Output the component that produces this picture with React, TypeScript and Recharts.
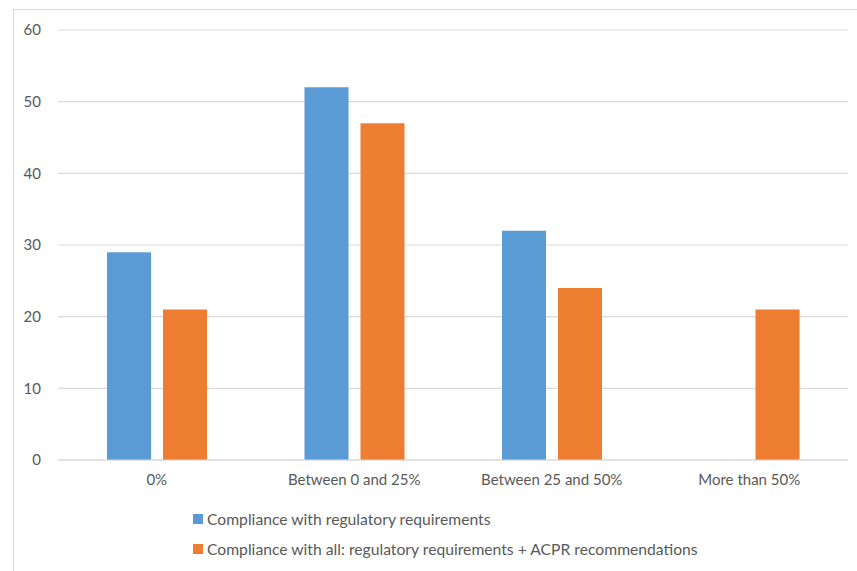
import { BarChart, Bar, XAxis, YAxis, CartesianGrid } from 'recharts';

const categories = ['0%', 'Between 0 and 25%', 'Between 25 and 50%', 'More than 50%'];
const regulatory = [29, 52, 32, 0];
const allCompliance = [21, 47, 24, 21];
const yTicks = [0, 10, 20, 30, 40, 50, 60];

const SERIES_A = 'Compliance with regulatory requirements';
const SERIES_B = 'Compliance with all: regulatory requirements + ACPR recommendations';
const COLOR_A = '#5B9BD5';
const COLOR_B = '#ED7D31';

const data = categories.map((name, i) => ({
  name,
  a: regulatory[i],
  b: allCompliance[i],
}));

const legendItems = [
  { label: SERIES_A, color: COLOR_A },
  { label: SERIES_B, color: COLOR_B },
];

const FONT = 'Lato, "Open Sans", sans-serif';
const TEXT = '#595959';
const GRID = '#d9d9d9';

const App = () => (
  <div style={{ position: 'fixed', left: 0, top: 0, width: 857, height: 571, overflow: 'hidden', background: '#fff' }}>
    <div
      style={{
        position: 'absolute',
        left: 13,
        top: 9,
        width: 900,
        height: 620,
        border: `1.5px solid ${GRID}`,
      }}
    />
    <div style={{ position: 'absolute', left: 0, top: 0 }}>
      <BarChart
        width={857}
        height={571}
        data={data}
        margin={{ top: 30, right: 9, bottom: 81, left: 0 }}
        barSize={44}
        barGap={12}
      >
        <CartesianGrid vertical={false} stroke={GRID} strokeWidth={1.2} />
        <XAxis
          dataKey="name"
          height={30}
          tickLine={false}
          axisLine={{ stroke: GRID, strokeWidth: 1.2 }}
          tickSize={0}
          tickMargin={14}
          tick={{ fontSize: 15, fill: TEXT, fontFamily: FONT }}
        />
        <YAxis
          width={58}
          domain={[0, 60]}
          ticks={yTicks}
          axisLine={false}
          tickLine={false}
          tickSize={0}
          tickMargin={17}
          tick={{ fontSize: 15, fill: TEXT, fontFamily: FONT }}
        />
        <Bar dataKey="a" name={SERIES_A} fill={COLOR_A} isAnimationActive={false} />
        <Bar dataKey="b" name={SERIES_B} fill={COLOR_B} isAnimationActive={false} />
      </BarChart>
    </div>
    <div style={{ position: 'absolute', left: 193, top: 504, fontFamily: FONT, fontSize: 15.7, color: TEXT }}>
      {legendItems.map((it) => (
        <div key={it.label} style={{ display: 'flex', alignItems: 'center', height: 30 }}>
          <span style={{ width: 10, height: 10, background: it.color, marginRight: 4, display: 'inline-block' }} />
          <span>{it.label}</span>
        </div>
      ))}
    </div>
  </div>
);

export default App;
